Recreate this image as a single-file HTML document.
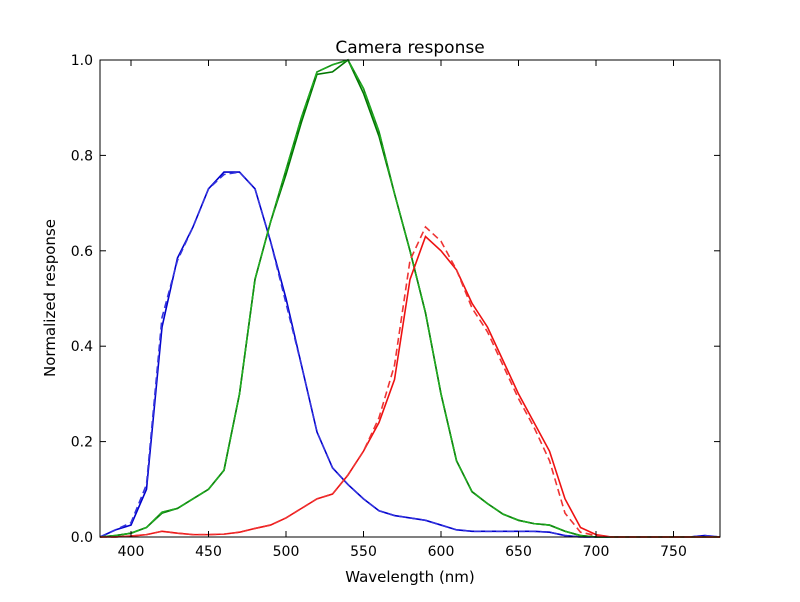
<!DOCTYPE html>
<html><head><meta charset="utf-8"><style>
body{margin:0;background:#fff;}
svg text{font-family:"DejaVu Sans","Liberation Sans",sans-serif;fill:#000;}
</style></head><body>
<svg id="chart" width="800" height="597" xmlns="http://www.w3.org/2000/svg">
<rect width="800" height="597" fill="#fff"/>
<g id="series"></g>
<g id="axes"></g>
<text x="410" y="53" text-anchor="middle" font-size="17">Camera response</text>
<text x="410" y="582" text-anchor="middle" font-size="15">Wavelength (nm)</text>
<text x="55" y="298" text-anchor="middle" font-size="15" transform="rotate(-90 55 298)">Normalized response</text>
</svg>
<script>
const wavelengths=[380,390,400,410,420,430,440,450,460,470,480,490,500,510,520,530,540,550,560,570,580,590,600,610,620,630,640,650,660,670,680,690,700,710,720,730,740,750,760,770,780];
const blueA=[0,0.015,0.025,0.1,0.44,0.585,0.65,0.73,0.765,0.765,0.73,0.62,0.5,0.36,0.22,0.145,0.11,0.08,0.055,0.045,0.04,0.035,0.025,0.015,0.012,0.012,0.012,0.012,0.012,0.01,0.003,0,0,0,0,0,0,0,0,0.003,0];
const blueB=[0,0.015,0.03,0.11,0.46,0.58,0.65,0.73,0.76,0.765,0.73,0.62,0.49,0.36,0.22,0.145,0.11,0.08,0.055,0.045,0.04,0.035,0.025,0.015,0.012,0.012,0.012,0.012,0.012,0.01,0.003,0,0,0,0,0,0,0,0,0.003,0];
const greenA=[0,0.003,0.008,0.02,0.05,0.06,0.08,0.1,0.14,0.3,0.54,0.66,0.76,0.87,0.97,0.975,1.0,0.93,0.84,0.72,0.6,0.47,0.3,0.16,0.095,0.07,0.048,0.035,0.028,0.025,0.012,0.003,0,0,0,0,0,0,0,0,0];
const greenB=[0,0.003,0.008,0.02,0.052,0.06,0.08,0.1,0.14,0.3,0.54,0.66,0.77,0.88,0.975,0.99,1.0,0.94,0.85,0.72,0.6,0.47,0.3,0.16,0.095,0.07,0.048,0.035,0.028,0.025,0.012,0.003,0,0,0,0,0,0,0,0,0];
const redA=[0,0,0.002,0.005,0.012,0.008,0.005,0.005,0.006,0.01,0.018,0.025,0.04,0.06,0.08,0.09,0.13,0.18,0.24,0.33,0.54,0.63,0.6,0.56,0.49,0.44,0.37,0.3,0.24,0.18,0.08,0.02,0.005,0,0,0,0,0,0,0,0];
const redB=[0,0,0.002,0.005,0.012,0.008,0.005,0.005,0.006,0.01,0.018,0.025,0.04,0.06,0.08,0.09,0.13,0.18,0.25,0.36,0.58,0.65,0.62,0.56,0.48,0.43,0.36,0.29,0.23,0.16,0.05,0.01,0.003,0,0,0,0,0,0,0,0];
const xTicks=[400,450,500,550,600,650,700,750];
const yTicks=[0,0.2,0.4,0.6,0.8,1.0];
const yTickLabels=["0.0","0.2","0.4","0.6","0.8","1.0"];
const X0=100,X1=720,Y0=537,Y1=60;
function sx(v){return X0+(v-380)/(780-380)*(X1-X0);}
function sy(v){return Y0-v*(Y0-Y1);}
const NS="http://www.w3.org/2000/svg";
const sg=document.getElementById('series');
function line(vals,color,dash,name){
  const p=document.createElementNS(NS,'polyline');
  p.setAttribute('points',vals.map((v,i)=>sx(wavelengths[i])+','+sy(v)).join(' '));
  p.setAttribute('fill','none');p.setAttribute('stroke',color);p.setAttribute('stroke-width','1.6');
  if(dash)p.setAttribute('stroke-dasharray','7 4');
  
  
  sg.appendChild(p);
}
line(blueA,'#0000cc',false,'blue-line');
line(blueB,'#3333dd',true,'blue-dashed-line');
line(greenA,'#007700',false,'green-line');
line(greenB,'#118811',false,'green-line-2');
line(greenB,'#22aa22',true,'green-dashed-line');
line(redA,'#ee1111',false,'red-line');
line(redB,'#ee3333',true,'red-dashed-line');
const ag=document.getElementById('axes');
const fr=document.createElementNS(NS,'rect');
fr.setAttribute('x',X0);fr.setAttribute('y',Y1);fr.setAttribute('width',X1-X0);fr.setAttribute('height',Y0-Y1);
fr.setAttribute('fill','none');fr.setAttribute('stroke','#000');fr.setAttribute('stroke-width','1');


ag.appendChild(fr);
xTicks.forEach(t=>{
  const x=sx(t);
  [[Y0,Y0-6],[Y1,Y1+6]].forEach(([a,b])=>{const l=document.createElementNS(NS,'line');l.setAttribute('x1',x);l.setAttribute('x2',x);l.setAttribute('y1',a);l.setAttribute('y2',b);l.setAttribute('stroke','#000');
  
  
  ag.appendChild(l);});
  const tx=document.createElementNS(NS,'text');tx.setAttribute('x',x);tx.setAttribute('y',Y0+19);tx.setAttribute('text-anchor','middle');tx.setAttribute('font-size','14');tx.textContent=t;
  
  
  ag.appendChild(tx);
});
yTicks.forEach((t,i)=>{
  const y=sy(t);
  [[X0,X0+6],[X1,X1-6]].forEach(([a,b])=>{const l=document.createElementNS(NS,'line');l.setAttribute('y1',y);l.setAttribute('y2',y);l.setAttribute('x1',a);l.setAttribute('x2',b);l.setAttribute('stroke','#000');
  
  
  ag.appendChild(l);});
  const tx=document.createElementNS(NS,'text');tx.setAttribute('x',X0-7);tx.setAttribute('y',y+5);tx.setAttribute('text-anchor','end');tx.setAttribute('font-size','14');tx.textContent=yTickLabels[i];
  
  
  ag.appendChild(tx);
});
</script>
</body></html>
